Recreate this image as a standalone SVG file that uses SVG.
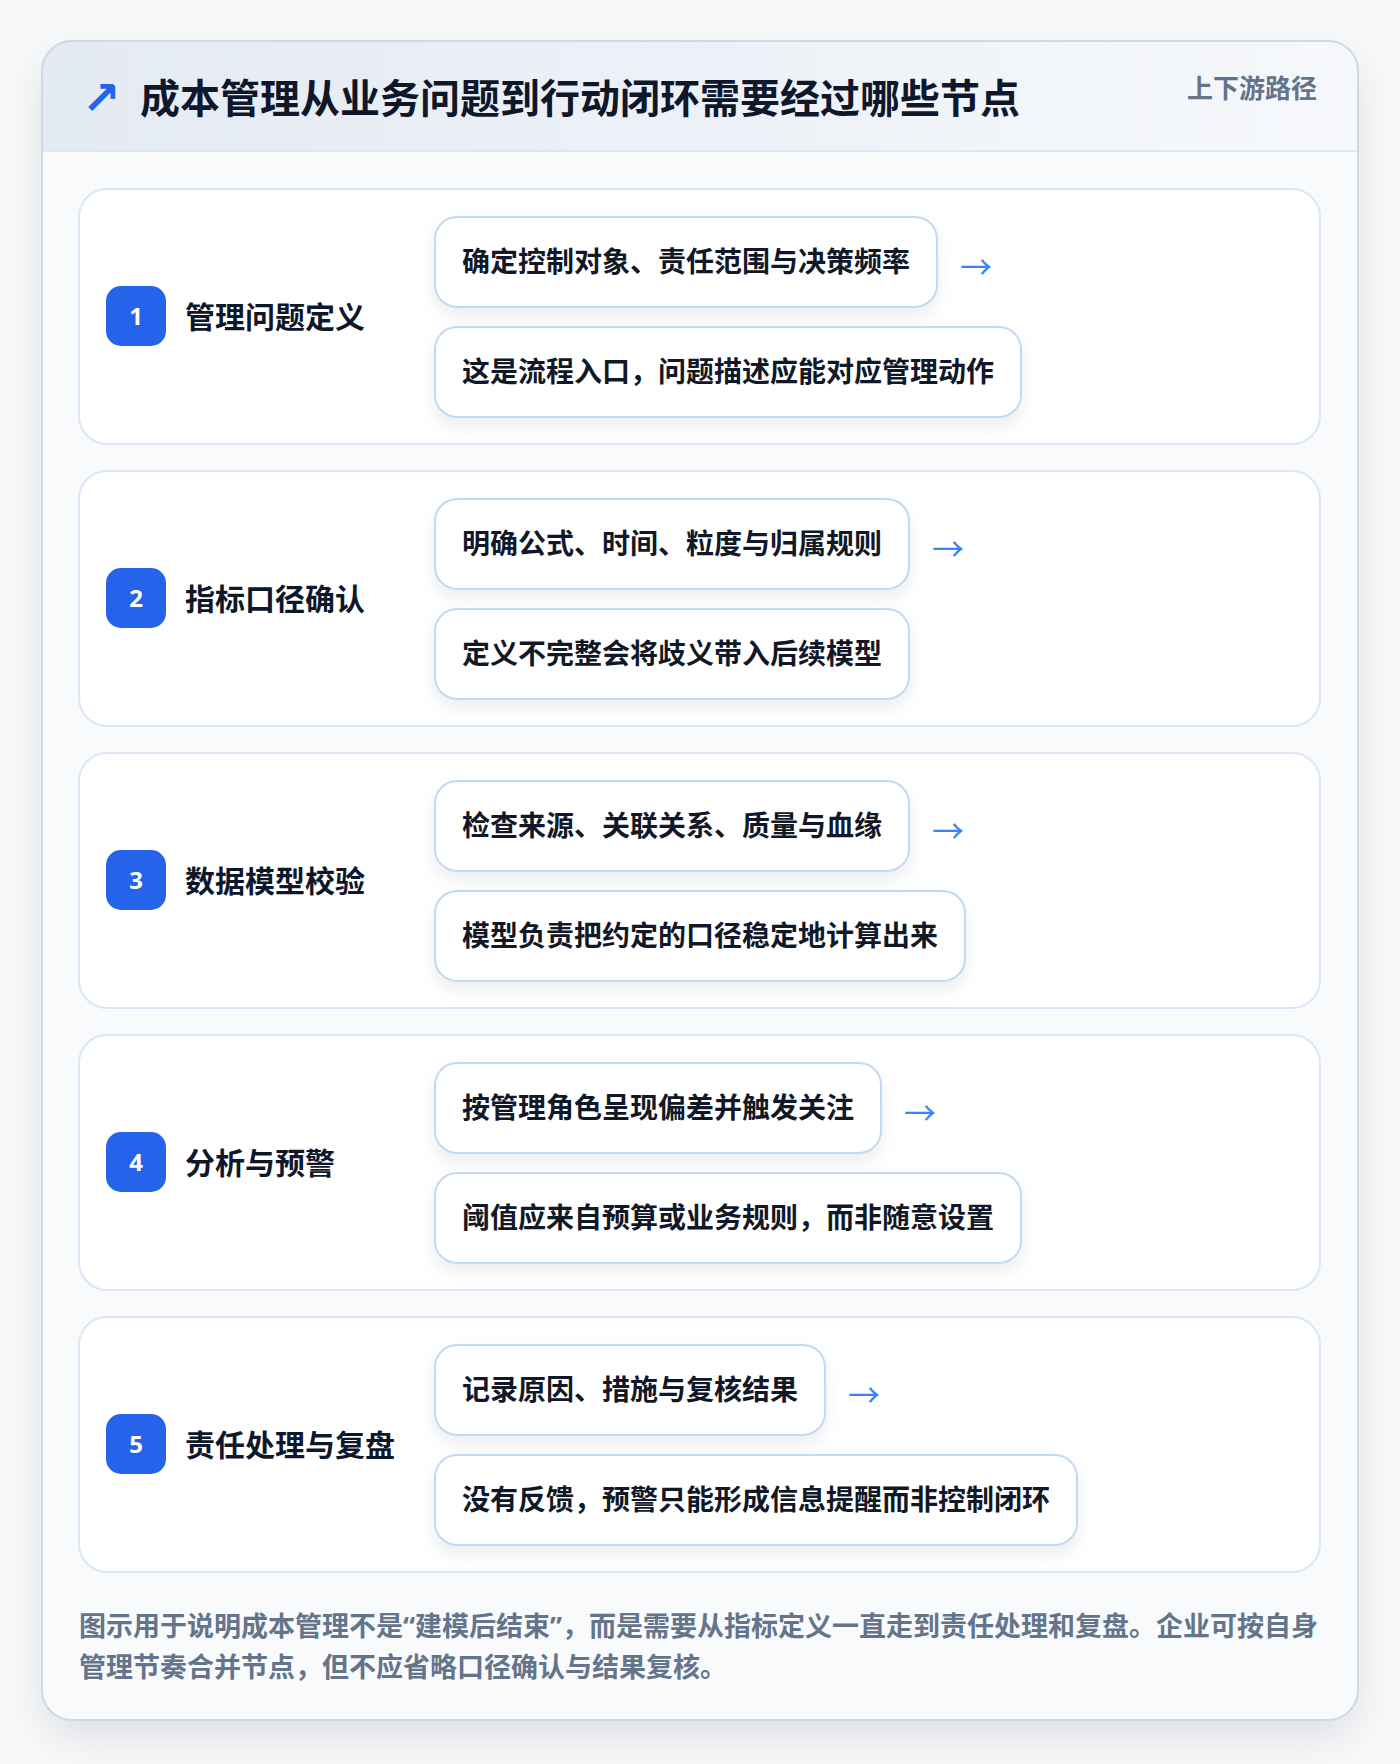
<svg xmlns="http://www.w3.org/2000/svg" width="1400" height="1764" viewBox="0 0 1400 1764">
<defs>
<linearGradient id="hdr" x1="0" y1="0" x2="1" y2="0">
<stop offset="0" stop-color="#e4eaf3"/>
<stop offset="1" stop-color="#f6f8fb"/>
</linearGradient>
<clipPath id="outerClip"><rect x="42" y="41" width="1316" height="1679" rx="30"/></clipPath>
<filter id="outerShadow" x="-10%" y="-10%" width="120%" height="120%">
<feDropShadow dx="0" dy="18" stdDeviation="22" flood-color="#0f172a" flood-opacity="0.10"/>
</filter>
<filter id="pillShadow" x="-10%" y="-30%" width="120%" height="180%">
<feDropShadow dx="0" dy="8" stdDeviation="8" flood-color="#0f172a" flood-opacity="0.07"/>
</filter>
</defs>
<style>
.cjk{font-family:"Noto Sans CJK SC","Noto Sans",sans-serif;font-weight:700}
.title{font-size:40px;fill:#0f172a}
.tag{font-size:26px;fill:#64748b}
.card{fill:#ffffff;stroke:#dbe7f6;stroke-width:2}
.badge{fill:#2563eb}
.num{font-family:"Noto Sans","Inter",sans-serif;font-weight:700;font-size:24px;fill:#ffffff;text-anchor:middle}
.label{font-size:30px;fill:#0f172a}
.pill{fill:#ffffff;stroke:#c3d8f4;stroke-width:2;filter:url(#pillShadow)}
.ptext{font-size:28px;fill:#111827}
.arrow{font-family:"Noto Sans CJK SC","DejaVu Sans",sans-serif;font-size:32px;fill:#3b82f6}
.foot{font-size:27px;fill:#64748b}
.q{font-family:"Noto Sans","Liberation Sans",sans-serif}
</style>
<rect x="0" y="0" width="1400" height="1764" fill="#f8f9fb"/>
<g id="frame">
<rect x="42" y="41" width="1316" height="1679" rx="30" fill="#f8fafc" filter="url(#outerShadow)"/>
<g clip-path="url(#outerClip)">
<rect x="42" y="41" width="1316" height="110" fill="url(#hdr)"/>
<line x1="42" y1="151" x2="1358" y2="151" stroke="#dbe7f5" stroke-width="2"/>
</g>
<rect x="42" y="41" width="1316" height="1679" rx="30" fill="none" stroke="#cfd8e4" stroke-width="2"/>
</g>
<g id="header">
<text x="82" y="114" font-family="DejaVu Sans,sans-serif" font-weight="700" font-size="46" fill="#2563eb">↗</text>
<text class="cjk title" x="140" y="113">成本管理从业务问题到行动闭环需要经过哪些节点</text>
<text class="cjk tag" x="1317" y="98" text-anchor="end">上下游路径</text>
</g>
<g id="step1">
<rect class="card" x="79" y="189" width="1241" height="255" rx="28"/>
<rect class="badge" x="106" y="286" width="60" height="60" rx="15"/>
<text class="num" x="136" y="325">1</text>
<text class="cjk label" x="185" y="328">管理问题定义</text>
<rect class="pill" x="435" y="217" width="502" height="90" rx="22"/>
<text class="cjk ptext" x="462" y="272">确定控制对象、责任范围与决策频率</text>
<rect class="pill" x="435" y="327" width="586" height="90" rx="22"/>
<text class="cjk ptext" x="462" y="382">这是流程入口，问题描述应能对应管理动作</text>
</g>
<g id="step2">
<rect class="card" x="79" y="471" width="1241" height="255" rx="28"/>
<rect class="badge" x="106" y="568" width="60" height="60" rx="15"/>
<text class="num" x="136" y="607">2</text>
<text class="cjk label" x="185" y="610">指标口径确认</text>
<rect class="pill" x="435" y="499" width="474" height="90" rx="22"/>
<text class="cjk ptext" x="462" y="554">明确公式、时间、粒度与归属规则</text>
<rect class="pill" x="435" y="609" width="474" height="90" rx="22"/>
<text class="cjk ptext" x="462" y="664">定义不完整会将歧义带入后续模型</text>
</g>
<g id="step3">
<rect class="card" x="79" y="753" width="1241" height="255" rx="28"/>
<rect class="badge" x="106" y="850" width="60" height="60" rx="15"/>
<text class="num" x="136" y="889">3</text>
<text class="cjk label" x="185" y="892">数据模型校验</text>
<rect class="pill" x="435" y="781" width="474" height="90" rx="22"/>
<text class="cjk ptext" x="462" y="836">检查来源、关联关系、质量与血缘</text>
<rect class="pill" x="435" y="891" width="530" height="90" rx="22"/>
<text class="cjk ptext" x="462" y="946">模型负责把约定的口径稳定地计算出来</text>
</g>
<g id="step4">
<rect class="card" x="79" y="1035" width="1241" height="255" rx="28"/>
<rect class="badge" x="106" y="1132" width="60" height="60" rx="15"/>
<text class="num" x="136" y="1171">4</text>
<text class="cjk label" x="185" y="1174">分析与预警</text>
<rect class="pill" x="435" y="1063" width="446" height="90" rx="22"/>
<text class="cjk ptext" x="462" y="1118">按管理角色呈现偏差并触发关注</text>
<rect class="pill" x="435" y="1173" width="586" height="90" rx="22"/>
<text class="cjk ptext" x="462" y="1228">阈值应来自预算或业务规则，而非随意设置</text>
</g>
<g id="step5">
<rect class="card" x="79" y="1317" width="1241" height="255" rx="28"/>
<rect class="badge" x="106" y="1414" width="60" height="60" rx="15"/>
<text class="num" x="136" y="1453">5</text>
<text class="cjk label" x="185" y="1456">责任处理与复盘</text>
<rect class="pill" x="435" y="1345" width="390" height="90" rx="22"/>
<text class="cjk ptext" x="462" y="1400">记录原因、措施与复核结果</text>
<rect class="pill" x="435" y="1455" width="642" height="90" rx="22"/>
<text class="cjk ptext" x="462" y="1510">没有反馈，预警只能形成信息提醒而非控制闭环</text>
</g>
<g id="connectors">
<text class="arrow" x="960" y="279">→</text>
<text class="arrow" x="932" y="561">→</text>
<text class="arrow" x="932" y="843">→</text>
<text class="arrow" x="904" y="1125">→</text>
<text class="arrow" x="848" y="1407">→</text>
</g>
<g id="footer">
<text class="cjk foot" x="79" y="1636">图示用于说明成本管理不是<tspan class="q">“</tspan>建模后结束<tspan class="q">”</tspan>，而是需要从指标定义一直走到责任处理和复盘。企业可按自身</text>
<text class="cjk foot" x="79" y="1677">管理节奏合并节点，但不应省略口径确认与结果复核。</text>
</g>
</svg>
